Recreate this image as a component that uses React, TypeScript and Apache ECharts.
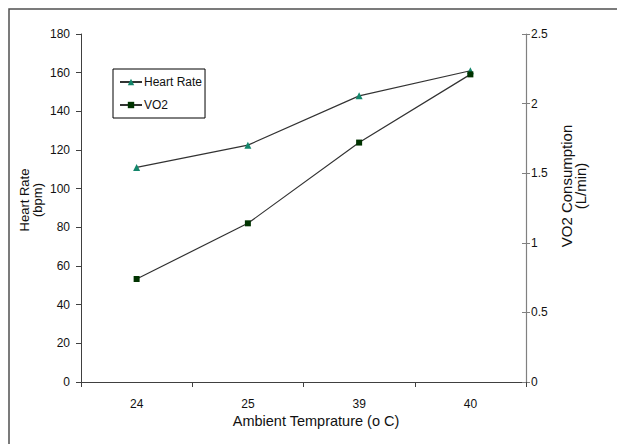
import React, { useEffect, useRef } from "react";
import * as echarts from "echarts";

const categories = ["24", "25", "39", "40"];
const heartRate = [111, 122.5, 148, 161];
const vo2 = [0.74, 1.14, 1.72, 2.21];
const seriesNames = ["Heart Rate", "VO2"];
const xName = "Ambient Temprature (o C)";
const leftName = "Heart Rate\n(bpm)";
const rightName = "VO2 Consumption\n(L/min)";

const FONT = "'Liberation Sans', Arial, sans-serif";

export default function App() {
  const ref = useRef<HTMLDivElement>(null);
  useEffect(() => {
    if (!ref.current) return;
    const chart = echarts.init(ref.current, null, { renderer: "svg" });
    chart.setOption({
      animation: false,
      backgroundColor: "#ffffff",
      textStyle: { fontFamily: FONT },
      grid: { left: 81, right: 91, top: 34, bottom: 62 },
      legend: {
        orient: "vertical",
        left: 113,
        top: 69,
        data: seriesNames,
        borderColor: "#000",
        borderWidth: 1,
        padding: [7, 3, 7, 6],
        itemGap: 11,
        itemWidth: 22,
        itemHeight: 8,
        textStyle: { fontFamily: FONT, fontSize: 12, color: "#111", padding: [0, 0, 0, -3] },
      },
      xAxis: {
        type: "category",
        data: categories,
        boundaryGap: true,
        axisLine: { lineStyle: { color: "#404040", width: 1 } },
        axisTick: { show: true, length: 5, lineStyle: { color: "#404040" } },
        axisLabel: { fontSize: 12, color: "#111", margin: 16, fontFamily: FONT },
        splitLine: { show: false },
      },
      yAxis: [
        {
          type: "value",
          min: 0,
          max: 180,
          interval: 20,
          position: "left",
          axisLine: { show: true, lineStyle: { color: "#404040", width: 1 } },
          axisTick: { show: true, length: 5, lineStyle: { color: "#404040" } },
          axisLabel: { fontSize: 12, color: "#111", margin: 11, fontFamily: FONT },
          splitLine: { show: false },
        },
        {
          type: "value",
          min: 0,
          max: 2.5,
          interval: 0.5,
          position: "right",
          axisLine: { show: true, lineStyle: { color: "#808080", width: 1.2 } },
          axisTick: { show: true, length: 4, lineStyle: { color: "#808080" } },
          axisLabel: { fontSize: 12, color: "#111", margin: 5, fontFamily: FONT },
          splitLine: { show: false },
        },
        {
          type: "value",
          min: 0,
          max: 2.5,
          interval: 0.5,
          position: "right",
          axisLine: { show: false },
          axisTick: { show: true, inside: true, length: 4, lineStyle: { color: "#808080" } },
          axisLabel: { show: false },
          splitLine: { show: false },
        },
      ],
      series: [
        {
          name: seriesNames[0],
          type: "line",
          yAxisIndex: 0,
          data: heartRate,
          symbol: "triangle",
          symbolSize: 7,
          itemStyle: { color: "#13866b" },
          lineStyle: { color: "#333333", width: 1.2 },
        },
        {
          name: seriesNames[1],
          type: "line",
          yAxisIndex: 1,
          data: vo2,
          symbol: "rect",
          symbolSize: 6,
          itemStyle: { color: "#003300" },
          lineStyle: { color: "#333333", width: 1.2 },
        },
      ],
      graphic: [
        {
          type: "rect",
          shape: { x: 9, y: 9, width: 640, height: 470 },
          style: { fill: "none", stroke: "#505050", lineWidth: 1.5 },
          silent: true,
        },
        {
          type: "text",
          x: 31,
          y: 200,
          rotation: Math.PI / 2,
          style: {
            text: leftName,
            fontFamily: FONT,
            fontSize: 13,
            lineHeight: 13,
            fill: "#111",
            align: "center",
            verticalAlign: "middle",
          },
        },
        {
          type: "text",
          x: 573,
          y: 186,
          rotation: Math.PI / 2,
          style: {
            text: rightName,
            fontFamily: FONT,
            fontSize: 15,
            lineHeight: 14,
            fill: "#111",
            align: "center",
            verticalAlign: "middle",
          },
        },
        {
          type: "text",
          x: 316,
          y: 421,
          style: {
            text: xName,
            fontFamily: FONT,
            fontSize: 14.5,
            fill: "#111",
            align: "center",
            verticalAlign: "middle",
          },
        },
      ],
    });
    return () => chart.dispose();
  }, []);
  return (
    <div
      ref={ref}
      style={{ position: "fixed", left: 0, top: 0, width: 617, height: 444 }}
    />
  );
}
